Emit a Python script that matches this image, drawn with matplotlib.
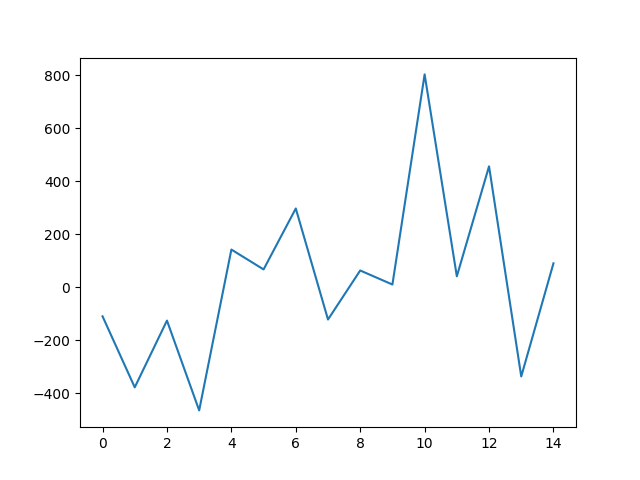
import matplotlib
matplotlib.use("Agg")
import matplotlib.pyplot as plt

# values
x_vals = list(range(15))
y_vals = [-109, -377, -125, -464, 143, 68, 298, -121, 64, 11, 804, 42, 457, -336, 91]

fig, ax = plt.subplots(figsize=(6.4, 4.8), dpi=100)
ax.plot(x_vals, y_vals)

fig.savefig("out.png")
